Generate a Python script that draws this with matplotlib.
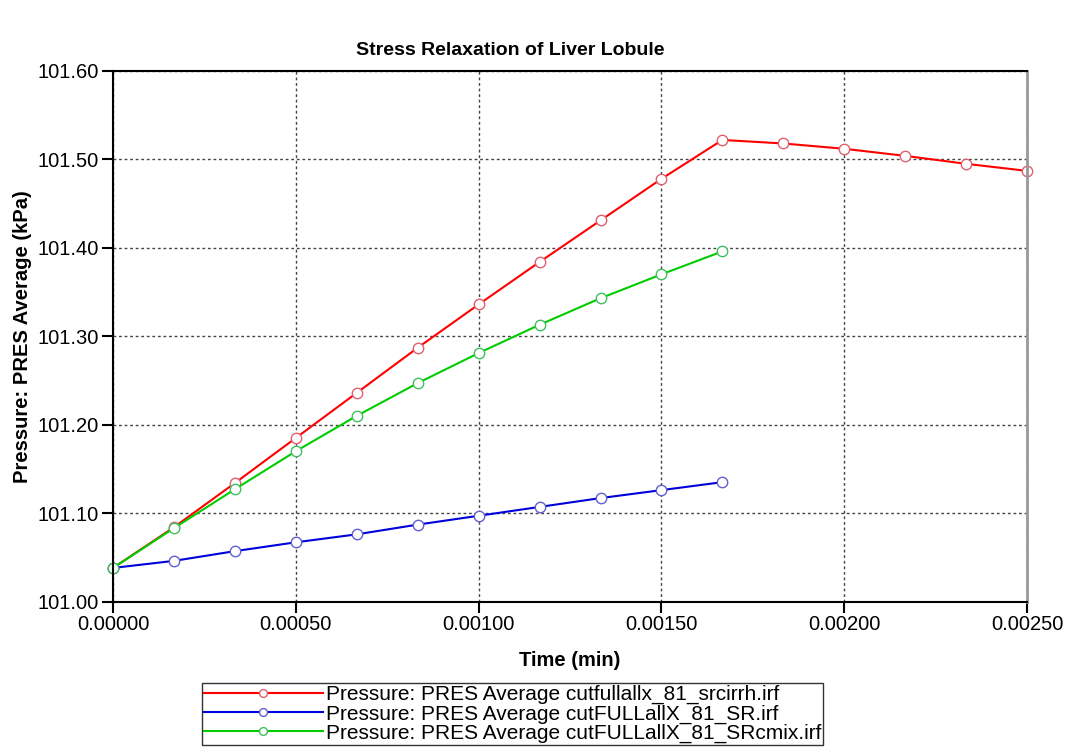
import numpy as np
import matplotlib.pyplot as plt

plt.rcParams['font.family'] = ['Liberation Sans', 'DejaVu Sans']

# time steps (min)
time_full = np.arange(16) * 0.00025 / 1.5
time_short = time_full[:11]

pres_srcirrh = [101.038, 101.084, 101.134, 101.185, 101.236, 101.287, 101.336, 101.384,
                101.431, 101.478, 101.522, 101.518, 101.512, 101.504, 101.495, 101.487]
pres_sr = [101.038, 101.046, 101.057, 101.067, 101.076, 101.087, 101.097, 101.107,
           101.117, 101.126, 101.135]
pres_srcmix = [101.038, 101.083, 101.127, 101.170, 101.210, 101.247, 101.281, 101.313,
               101.343, 101.370, 101.396]

labels = [
    "Pressure: PRES Average cutfullallx_81_srcirrh.irf",
    "Pressure: PRES Average cutFULLallX_81_SR.irf",
    "Pressure: PRES Average cutFULLallX_81_SRcmix.irf",
]

fig = plt.figure(figsize=(10.71, 7.51), dpi=100)
ax = fig.add_axes([0.1055, 0.199, 0.8535, 0.7065])

series = [
    (time_full, pres_srcirrh, '#ff0000', '#e06070'),
    (time_short, pres_sr, '#0000dd', '#6060d0'),
    (time_short, pres_srcmix, '#00cc00', '#40c060'),
]
for (t, p, col, mec), lab in zip(series, labels):
    ax.plot(t, p, color=col, lw=1.5, marker='o', ms=7.5, mfc='white', mec=mec,
            mew=1.0, label=lab, clip_on=False)

ax.set_xlim(0, 0.0025)
ax.set_ylim(101.0, 101.6)
ax.set_xticks(np.arange(0, 0.00251, 0.0005))
ax.set_yticks(np.arange(101.0, 101.61, 0.1))
ax.xaxis.set_major_formatter(plt.FormatStrFormatter('%.5f'))
ax.yaxis.set_major_formatter(plt.FormatStrFormatter('%.2f'))
ax.tick_params(direction='out', length=8, width=1.5, labelsize=14.5, color='black', pad=2)
ax.grid(True, linestyle=(0, (2, 2)), color='#444444', lw=1.0)

for side in ['left', 'bottom', 'top']:
    ax.spines[side].set_linewidth(1.5)
ax.spines['right'].set_color('#999999')
ax.spines['right'].set_linewidth(2)

ax.set_xlabel("Time (min)", fontsize=14.5, fontweight='bold', labelpad=12)
ax.set_ylabel("Pressure: PRES Average (kPa)", fontsize=14.5, fontweight='bold', labelpad=4)
fig.text(510 / 1071, 1 - 55 / 751, "Stress Relaxation of Liver Lobule", ha='center',
         fontsize=14, fontweight='bold')

leg = fig.legend(loc='upper left', bbox_to_anchor=(202 / 1071, 1 - 683 / 751),
                 fontsize=15, frameon=True, fancybox=False, edgecolor='black',
                 handlelength=5.7, handletextpad=0.15, borderpad=0.1,
                 labelspacing=0.0, borderaxespad=0, markerscale=0.75)
leg.get_frame().set_linewidth(1.0)

fig.savefig('out.png', dpi=100)
